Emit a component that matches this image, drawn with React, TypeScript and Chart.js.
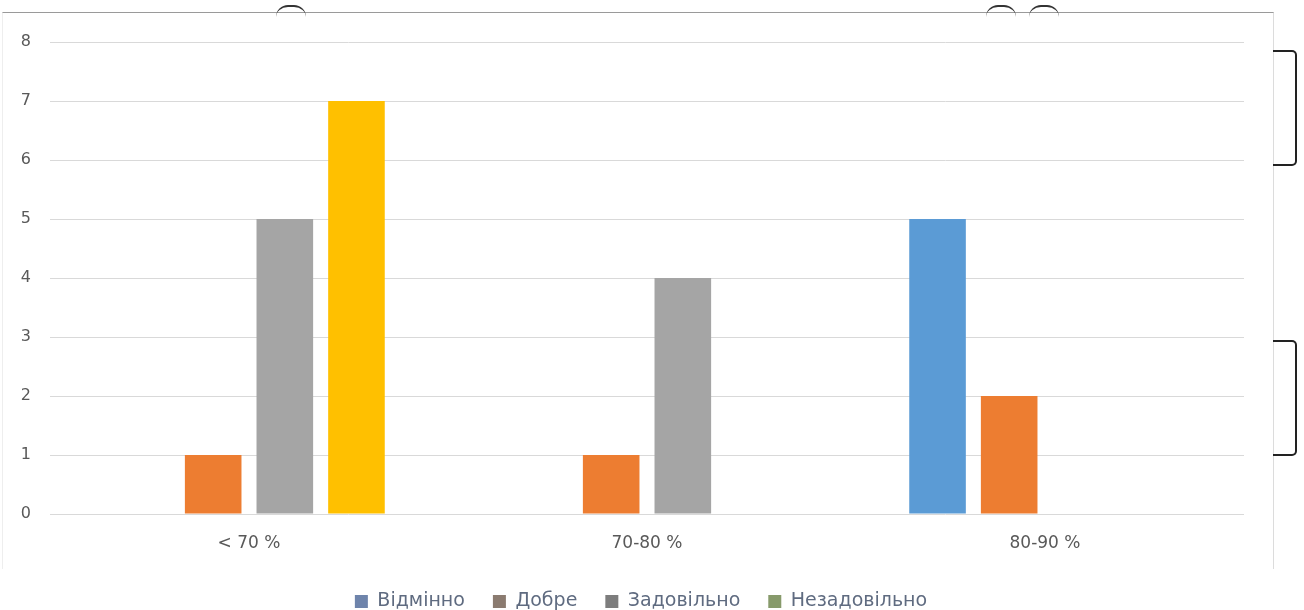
import React, { useEffect, useRef } from "react";
import { Chart, registerables } from "chart.js";

Chart.register(...registerables);

const categories = ["< 70 %", "70-80 %", "80-90 %"];
const seriesNames = ["Відмінно", "Добре", "Задовільно", "Незадовільно"];
const vidminno = [0, 0, 5];
const dobre = [1, 1, 2];
const zadovilno = [5, 4, 0];
const nezadovilno = [7, 0, 0];
const barColors = ["#5B9BD5", "#ED7D31", "#A5A5A5", "#FFC000"];
const legendColors = ["#6E84AB", "#8B7B70", "#7D7D7D", "#879A6B"];
const yMin = 0;
const yMax = 8;
const yStep = 1;

const FONT = "'DejaVu Sans', 'Open Sans', sans-serif";
const CANVAS_H = 621;

export default function App() {
  const ref = useRef<HTMLCanvasElement | null>(null);

  useEffect(() => {
    const prevMargin = document.body.style.margin;
    document.body.style.margin = "0";
    const canvas = ref.current;
    if (!canvas) return;
    const values = [vidminno, dobre, zadovilno, nezadovilno];
    const chart = new Chart(canvas, {
      type: "bar",
      data: {
        labels: categories,
        datasets: seriesNames.map((name, i) => ({
          label: name,
          data: values[i],
          backgroundColor: barColors[i],
          borderWidth: 0,
          categoryPercentage: 0.72,
          barPercentage: 0.79,
          yAxisID: "y",
        })),
      },
      options: {
        responsive: false,
        animation: false,
        devicePixelRatio: 1,
        layout: { padding: { left: 0, right: 22, top: 42, bottom: 0 } },
        plugins: {
          tooltip: { enabled: false },
          legend: {
            position: "bottom",
            labels: {
              boxWidth: 13,
              boxHeight: 13,
              padding: 28,
              color: "#5F6B80",
              font: { family: FONT, size: 19 },
              generateLabels: () =>
                seriesNames.map((name, i) => ({
                  text: name,
                  fillStyle: legendColors[i],
                  strokeStyle: legendColors[i],
                  lineWidth: 0,
                  hidden: false,
                  datasetIndex: i,
                  fontColor: "#5F6B80",
                })),
            },
          },
        },
        scales: {
          x: {
            grid: { display: false, drawTicks: false },
            border: { display: false },
            ticks: {
              color: "#595959",
              font: { family: FONT, size: 17 },
              padding: 19,
            },
            afterFit: (s: any) => {
              s.height = 50;
            },
          },
          y: {
            position: "left",
            min: yMin,
            max: yMax,
            ticks: {
              stepSize: yStep,
              color: "#595959",
              font: { family: FONT, size: 16 },
              padding: 19,
            },
            grid: { color: "#D9D9D9", lineWidth: 1, drawTicks: false },
            border: { display: false },
            afterFit: (s: any) => {
              s.width = 50;
            },
          },
          yRight: {
            position: "right",
            min: yMin,
            max: yMax,
            ticks: { display: false },
            grid: { display: false, drawTicks: false },
            border: { display: false },
            afterFit: (s: any) => {
              s.width = 38;
            },
          },
        },
      },
    });
    return () => {
      chart.destroy();
      document.body.style.margin = prevMargin;
    };
  }, []);

  const bracket = (top: number): React.CSSProperties => ({
    position: "absolute",
    left: 1273,
    top,
    width: 22,
    height: 112,
    borderTop: "2px solid #222",
    borderRight: "2px solid #222",
    borderBottom: "2px solid #222",
    borderRadius: "0 5px 5px 0",
  });
  const arc = (left: number): React.CSSProperties => ({
    position: "absolute",
    left,
    top: 5,
    width: 30,
    height: 10,
    borderTop: "2px solid #333",
    borderRadius: "15px 15px 0 0",
  });

  return (
    <div style={{ position: "relative", width: 1304, height: 610, background: "#fff", overflow: "hidden" }}>
      <div
        style={{
          position: "absolute",
          left: 2,
          top: 12,
          width: 1270,
          height: 556,
          borderTop: "1px solid #9a9a9a",
          borderRight: "1px solid #dcdcdc",
          borderLeft: "1px solid #eeeeee",
        }}
      />
      <div style={bracket(50)} />
      <div style={bracket(340)} />
      <div style={arc(276)} />
      <div style={arc(986)} />
      <div style={arc(1029)} />
      <canvas ref={ref} width={1304} height={CANVAS_H} style={{ position: "absolute", left: 0, top: 0 }} />
    </div>
  );
}
